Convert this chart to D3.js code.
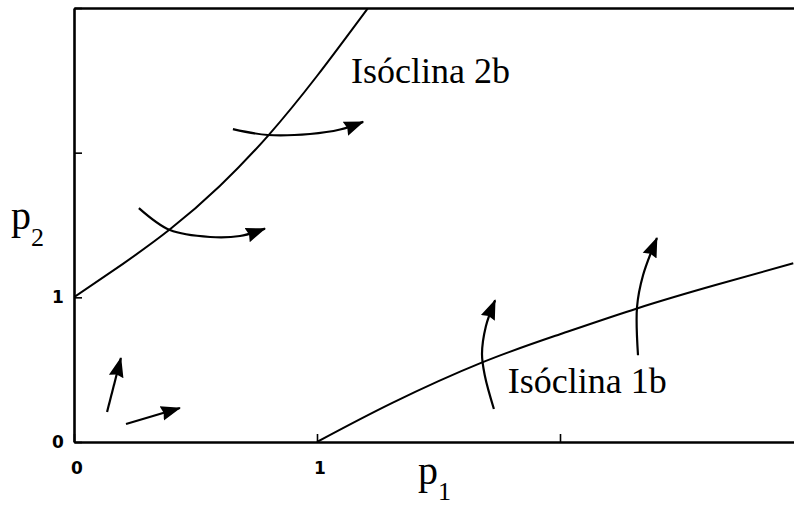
<!DOCTYPE html>
<html>
<head>
<meta charset="utf-8">
<script src="https://cdn.jsdelivr.net/npm/d3@7"></script>
<style>
  html, body { margin: 0; padding: 0; background: #fff; }
  svg { display: block; }
</style>
</head>
<body>
<svg id="chart" width="794" height="508"></svg>
<script>
// Phase diagram: two isoclines in the (p1, p2) plane with direction arrows.
const xTicks = [0, 1, 2, 3];
const yTicks = [0, 1, 2, 3];
const xTickLabels = ["0", "1", "", ""];
const yTickLabels = ["0", "1", "", ""];

// Isoclines as (p1, p2) pairs
const isocline2b = [[0, 1], [0.2, 1.23], [0.395, 1.47], [0.6, 1.77], [0.8, 2.12], [1.0, 2.53], [1.21, 3.0]];
const isocline1b = [[1, 0], [1.31, 0.27], [1.68, 0.55], [2.0, 0.745], [2.32, 0.925], [2.64, 1.085], [2.96, 1.235]];

// Direction arrows (last point is the tip)
const arrowUpperLeft = [[0.654, 2.163], [0.798, 2.122], [0.971, 2.129], [1.095, 2.16], [1.19, 2.213]];
const arrowMiddleLeft = [[0.267, 1.617], [0.395, 1.465], [0.56, 1.417], [0.683, 1.424], [0.786, 1.475]];
const arrowLowUp = [[0.136, 0.207], [0.193, 0.58]];
const arrowLowRight = [[0.214, 0.124], [0.436, 0.235]];
const arrowIso1Left = [[1.728, 0.228], [1.691, 0.456], [1.679, 0.608], [1.695, 0.80], [1.733, 0.98]];
const arrowIso1Right = [[2.321, 0.6], [2.317, 0.933], [2.342, 1.154], [2.399, 1.41]];
const arrows = [arrowUpperLeft, arrowMiddleLeft, arrowLowUp, arrowLowRight, arrowIso1Left, arrowIso1Right];

const labels = [
  { text: "Isóclina 2b", p1: 1.14, p2: 2.48 },
  { text: "Isóclina 1b", p1: 1.785, p2: 0.338 }
];

const svg = d3.select("#chart");
const x = d3.scaleLinear().domain([0, 3]).range([74, 803]);
const y = d3.scaleLinear().domain([0, 3]).range([442, 8]);

const defs = svg.append("defs");
defs.append("marker")
  .attr("id", "head")
  .attr("viewBox", "0 0 20 18")
  .attr("refX", 19).attr("refY", 9)
  .attr("markerWidth", 20).attr("markerHeight", 18)
  .attr("markerUnits", "userSpaceOnUse")
  .attr("orient", "auto")
  .append("path")
  .attr("d", "M0,1.5 L20,9 L0,16.5 L2,9 Z")
  .attr("fill", "#000");

// Frame: axes on all four sides, ticks pointing inward
const axisBottom = d3.axisBottom(x).tickValues(xTicks).tickSizeInner(-8).tickSizeOuter(0).tickFormat("");
const axisLeft = d3.axisLeft(y).tickValues(yTicks).tickSizeInner(-8).tickSizeOuter(0).tickFormat("");
const axisTop = d3.axisTop(x).tickValues([]).tickSizeOuter(0);
const axisRight = d3.axisRight(y).tickValues(yTicks).tickSizeInner(-8).tickSizeOuter(0).tickFormat("");

function styleAxis(g) {
  g.select(".domain").attr("stroke", "#000").attr("stroke-width", 2.6);
  g.selectAll(".tick line").attr("stroke", "#000").attr("stroke-width", 1.6);
}
svg.append("g").attr("transform", `translate(0,${y(0)})`).call(axisBottom).call(styleAxis);
svg.append("g").attr("transform", `translate(${x(0)},0)`).call(axisLeft).call(styleAxis);
svg.append("g").attr("transform", `translate(0,${y(3)})`).call(axisTop).call(styleAxis);
svg.append("g").attr("transform", `translate(${x(3)},0)`).call(axisRight).call(styleAxis);

// Tick labels
const tickFont = "'DejaVu Sans', sans-serif";
svg.append("g").selectAll("text").data(xTicks.filter((d, i) => xTickLabels[i]))
  .join("text")
  .attr("x", d => x(d) + 3).attr("y", 474)
  .attr("text-anchor", "middle")
  .style("font-family", tickFont).style("font-weight", "bold").style("font-size", "17px")
  .text(d => xTickLabels[xTicks.indexOf(d)]);
svg.append("g").selectAll("text").data(yTicks.filter((d, i) => yTickLabels[i]))
  .join("text")
  .attr("x", 58).attr("y", d => y(d) + 6)
  .attr("text-anchor", "middle")
  .style("font-family", tickFont).style("font-weight", "bold").style("font-size", "17px")
  .text(d => yTickLabels[yTicks.indexOf(d)]);

// Axis titles
const serif = "'Liberation Serif', 'Times New Roman', serif";
const t1 = svg.append("text").attr("x", 418).attr("y", 484)
  .attr("font-family", serif).attr("font-size", 40);
t1.append("tspan").text("p");
t1.append("tspan").attr("font-size", 26).attr("dy", 16).text("1");
const t2 = svg.append("text").attr("x", 11).attr("y", 229)
  .attr("font-family", serif).attr("font-size", 40);
t2.append("tspan").text("p");
t2.append("tspan").attr("font-size", 26).attr("dy", 17).text("2");

// Isoclines
const curve = d3.line().x(d => x(d[0])).y(d => y(d[1])).curve(d3.curveNatural);
const clip = defs.append("clipPath").attr("id", "plot");
clip.append("rect").attr("x", x(0)).attr("y", y(3)).attr("width", x(3) - x(0)).attr("height", y(0) - y(3));
svg.append("g").attr("clip-path", "url(#plot)")
  .selectAll("path").data([isocline2b, isocline1b]).join("path")
  .attr("d", curve)
  .attr("fill", "none").attr("stroke", "#000").attr("stroke-width", 2);

// Arrows
const arrowLine = d3.line().x(d => x(d[0])).y(d => y(d[1])).curve(d3.curveCatmullRom.alpha(0.5));
svg.append("g").selectAll("path").data(arrows).join("path")
  .attr("d", arrowLine)
  .attr("fill", "none").attr("stroke", "#000").attr("stroke-width", 2.2)
  .attr("marker-end", "url(#head)");

// Curve labels
svg.append("g").selectAll("text").data(labels).join("text")
  .attr("x", d => x(d.p1)).attr("y", d => y(d.p2))
  .attr("font-family", serif).attr("font-size", 36)
  .attr("fill", "#000")
  .text(d => d.text);
</script>
</body>
</html>
